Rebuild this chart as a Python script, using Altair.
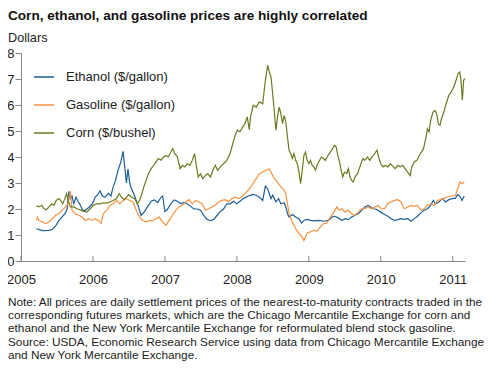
import altair as alt
import pandas as pd

FONT = "Liberation Sans"

eth_year = [2005.215, 2005.297, 2005.389, 2005.435, 2005.481, 2005.526, 2005.572, 2005.618, 2005.641, 2005.664,
            2005.686, 2005.709, 2005.732, 2005.764, 2005.792, 2005.824, 2005.856, 2005.892, 2005.938, 2005.993,
            2006.030, 2006.066, 2006.098, 2006.130, 2006.167, 2006.213, 2006.249, 2006.281, 2006.314, 2006.350,
            2006.387, 2006.419, 2006.442, 2006.465, 2006.487, 2006.510, 2006.533, 2006.579, 2006.625, 2006.670,
            2006.716, 2006.762, 2006.808, 2006.854, 2006.899, 2006.945, 2006.968, 2007.000, 2007.037, 2007.082,
            2007.128, 2007.174, 2007.220, 2007.265, 2007.311, 2007.357, 2007.403, 2007.449, 2007.494, 2007.540,
            2007.586, 2007.632, 2007.677, 2007.723, 2007.769, 2007.815, 2007.860, 2007.906, 2007.952, 2007.998,
            2008.043, 2008.089, 2008.158, 2008.222, 2008.268, 2008.314, 2008.359, 2008.396, 2008.428, 2008.474,
            2008.497, 2008.542, 2008.579, 2008.611, 2008.657, 2008.680, 2008.703, 2008.725, 2008.771, 2008.817,
            2008.863, 2008.899, 2008.931, 2008.977, 2009.023, 2009.069, 2009.137, 2009.206, 2009.275, 2009.320,
            2009.366, 2009.412, 2009.458, 2009.503, 2009.549, 2009.595, 2009.641, 2009.687, 2009.732, 2009.778,
            2009.824, 2009.847, 2009.892, 2009.938, 2009.998, 2010.053, 2010.098, 2010.144, 2010.190, 2010.236,
            2010.281, 2010.327, 2010.373, 2010.419, 2010.465, 2010.510, 2010.556, 2010.602, 2010.648, 2010.693,
            2010.730, 2010.762, 2010.808, 2010.854, 2010.899, 2010.945, 2010.991, 2011.037, 2011.069, 2011.105,
            2011.128, 2011.160]
eth_val = [1.24, 1.17, 1.18, 1.22, 1.35, 1.55, 1.70, 1.85, 2.00, 2.68,
           2.40, 2.50, 2.20, 2.45, 2.30, 2.15, 1.95, 1.95, 2.05, 2.20,
           2.45, 2.55, 2.70, 2.50, 2.45, 2.60, 2.50, 2.85, 3.10, 3.50,
           3.80, 4.22, 3.60, 3.00, 3.55, 3.00, 2.80, 2.50, 2.15, 1.75,
           1.90, 2.10, 2.30, 2.35, 2.25, 2.45, 2.50, 1.90, 2.00, 2.20,
           2.35, 2.30, 2.20, 2.25, 2.20, 2.10, 2.00, 2.00, 1.95, 1.75,
           1.60, 1.55, 1.60, 1.75, 1.90, 2.00, 2.20, 2.20, 2.30, 2.20,
           2.30, 2.40, 2.50, 2.56, 2.53, 2.45, 2.33, 2.88, 2.78, 2.40,
           2.53, 2.27, 2.40, 2.20, 2.24, 2.08, 1.82, 1.69, 1.79, 1.69,
           1.63, 1.46, 1.56, 1.60, 1.56, 1.54, 1.56, 1.53, 1.56, 1.69,
           1.72, 1.65, 1.56, 1.63, 1.59, 1.69, 1.76, 1.82, 1.95, 2.08,
           2.14, 2.10, 2.01, 1.99, 1.88, 1.79, 1.72, 1.63, 1.56, 1.59,
           1.63, 1.60, 1.63, 1.53, 1.63, 1.72, 1.85, 1.95, 2.01, 2.14,
           2.33, 2.20, 2.27, 2.40, 2.27, 2.36, 2.40, 2.42, 2.56, 2.46,
           2.33, 2.50]

gas_year = [2005.215, 2005.229, 2005.252, 2005.297, 2005.343, 2005.389, 2005.435, 2005.481, 2005.526, 2005.572,
            2005.618, 2005.654, 2005.686, 2005.709, 2005.755, 2005.801, 2005.847, 2005.892, 2005.938, 2005.984,
            2006.030, 2006.076, 2006.112, 2006.144, 2006.190, 2006.236, 2006.281, 2006.327, 2006.373, 2006.419,
            2006.465, 2006.510, 2006.556, 2006.602, 2006.648, 2006.693, 2006.739, 2006.785, 2006.831, 2006.876,
            2006.922, 2006.968, 2007.014, 2007.059, 2007.105, 2007.151, 2007.197, 2007.243, 2007.288, 2007.334,
            2007.380, 2007.426, 2007.471, 2007.517, 2007.563, 2007.609, 2007.654, 2007.700, 2007.746, 2007.792,
            2007.838, 2007.883, 2007.929, 2007.975, 2008.021, 2008.066, 2008.112, 2008.158, 2008.222, 2008.268,
            2008.314, 2008.359, 2008.405, 2008.451, 2008.474, 2008.506, 2008.542, 2008.579, 2008.611, 2008.657,
            2008.680, 2008.703, 2008.725, 2008.771, 2008.817, 2008.863, 2008.908, 2008.931, 2008.977, 2009.023,
            2009.069, 2009.114, 2009.160, 2009.206, 2009.252, 2009.298, 2009.343, 2009.389, 2009.421, 2009.458,
            2009.503, 2009.549, 2009.595, 2009.641, 2009.687, 2009.732, 2009.778, 2009.824, 2009.870, 2009.915,
            2009.961, 2010.007, 2010.053, 2010.098, 2010.144, 2010.190, 2010.236, 2010.281, 2010.327, 2010.373,
            2010.419, 2010.465, 2010.510, 2010.556, 2010.602, 2010.648, 2010.693, 2010.739, 2010.785, 2010.831,
            2010.876, 2010.922, 2010.968, 2011.037, 2011.069, 2011.096, 2011.128, 2011.160]
gas_val = [1.56, 1.69, 1.56, 1.50, 1.44, 1.50, 1.63, 1.76, 1.82, 1.95,
           2.08, 2.20, 2.70, 1.95, 1.82, 1.76, 1.69, 1.56, 1.63, 1.56,
           1.63, 1.56, 1.44, 1.82, 1.95, 2.14, 2.20, 2.33, 2.20, 2.33,
           2.40, 2.33, 2.27, 1.95, 1.69, 1.56, 1.50, 1.56, 1.54, 1.63,
           1.69, 1.50, 1.37, 1.56, 1.76, 1.95, 2.08, 2.14, 2.27, 2.36,
           2.20, 2.33, 2.27, 2.20, 1.95, 2.01, 2.08, 2.14, 2.27, 2.33,
           2.36, 2.27, 2.40, 2.46, 2.40, 2.46, 2.59, 2.72, 2.97, 3.17,
           3.36, 3.42, 3.49, 3.55, 3.42, 3.23, 3.10, 2.97, 2.85, 2.72,
           2.59, 2.20, 1.82, 1.50, 1.24, 1.05, 0.92, 0.79, 1.08, 1.12,
           1.18, 1.15, 1.31, 1.44, 1.46, 1.69, 1.85, 2.08, 1.95, 2.01,
           1.88, 1.95, 1.82, 1.76, 1.88, 2.01, 2.01, 2.08, 2.01, 2.08,
           2.14, 2.01, 2.01, 2.20, 2.27, 2.33, 2.36, 2.27, 2.01, 2.08,
           2.14, 2.10, 2.14, 1.95, 2.01, 2.14, 2.20, 2.14, 2.33, 2.36,
           2.40, 2.46, 2.49, 2.53, 2.78, 3.04, 2.97, 3.04]

corn_year = [2005.215, 2005.252, 2005.288, 2005.320, 2005.352, 2005.389, 2005.426, 2005.458, 2005.490, 2005.526,
             2005.549, 2005.581, 2005.609, 2005.632, 2005.654, 2005.686, 2005.732, 2005.778, 2005.824, 2005.870,
             2005.915, 2005.961, 2006.007, 2006.053, 2006.098, 2006.144, 2006.190, 2006.236, 2006.281, 2006.327,
             2006.364, 2006.396, 2006.432, 2006.465, 2006.497, 2006.533, 2006.579, 2006.616, 2006.648, 2006.680,
             2006.707, 2006.739, 2006.771, 2006.808, 2006.844, 2006.876, 2006.908, 2006.945, 2006.982, 2007.014,
             2007.046, 2007.082, 2007.110, 2007.137, 2007.174, 2007.211, 2007.243, 2007.275, 2007.311, 2007.348,
             2007.380, 2007.412, 2007.439, 2007.462, 2007.494, 2007.526, 2007.563, 2007.595, 2007.632, 2007.668,
             2007.700, 2007.732, 2007.769, 2007.815, 2007.860, 2007.906, 2007.943, 2007.975, 2008.007, 2008.043,
             2008.080, 2008.112, 2008.144, 2008.172, 2008.190, 2008.227, 2008.268, 2008.314, 2008.359, 2008.396,
             2008.428, 2008.451, 2008.474, 2008.497, 2008.519, 2008.542, 2008.565, 2008.588, 2008.611, 2008.634,
             2008.657, 2008.680, 2008.703, 2008.725, 2008.748, 2008.771, 2008.794, 2008.817, 2008.840, 2008.863,
             2008.886, 2008.908, 2008.931, 2008.954, 2008.977, 2009.000, 2009.023, 2009.046, 2009.069, 2009.092,
             2009.114, 2009.137, 2009.174, 2009.206, 2009.229, 2009.265, 2009.298, 2009.330, 2009.357, 2009.380,
             2009.403, 2009.426, 2009.449, 2009.471, 2009.494, 2009.526, 2009.549, 2009.572, 2009.595, 2009.618,
             2009.641, 2009.677, 2009.709, 2009.732, 2009.755, 2009.778, 2009.815, 2009.847, 2009.879, 2009.915,
             2009.947, 2009.970, 2009.998, 2010.030, 2010.062, 2010.098, 2010.135, 2010.167, 2010.199, 2010.236,
             2010.272, 2010.304, 2010.336, 2010.373, 2010.410, 2010.428, 2010.465, 2010.501, 2010.533, 2010.565,
             2010.593, 2010.625, 2010.648, 2010.671, 2010.693, 2010.725, 2010.753, 2010.776, 2010.799, 2010.822,
             2010.844, 2010.876, 2010.908, 2010.945, 2010.977, 2011.014, 2011.046, 2011.073, 2011.096, 2011.114,
             2011.133, 2011.151, 2011.169]
corn_val = [2.12, 2.08, 2.14, 2.01, 1.97, 2.08, 2.20, 2.14, 2.33, 2.40,
            2.33, 2.20, 2.40, 2.59, 2.33, 2.08, 2.08, 2.01, 1.97, 1.91,
            1.88, 2.01, 2.14, 2.20, 2.20, 2.24, 2.23, 2.27, 2.33, 2.40,
            2.59, 2.46, 2.36, 2.46, 2.55, 2.46, 2.40, 2.20, 2.33, 2.59,
            2.85, 3.10, 3.36, 3.55, 3.68, 3.81, 3.94, 3.88, 4.00, 4.06,
            4.00, 4.19, 4.32, 4.13, 4.00, 3.55, 3.68, 3.62, 3.74, 3.68,
            3.87, 4.13, 3.62, 3.23, 3.36, 3.17, 3.29, 3.36, 3.23, 3.49,
            3.68, 3.49, 3.62, 3.74, 3.87, 4.13, 4.51, 4.83, 5.03, 4.97,
            5.15, 5.28, 5.54, 5.05, 5.54, 5.99, 5.92, 6.12, 6.05, 6.95,
            7.53, 7.27, 7.08, 6.44, 5.79, 5.03, 5.54, 5.92, 5.67, 5.28,
            5.60, 5.35, 4.77, 4.26, 4.13, 3.94, 4.13, 3.87, 3.74, 3.42,
            2.97, 3.49, 4.06, 4.19, 3.87, 3.74, 3.87, 3.68, 3.62, 3.49,
            3.68, 3.81, 4.00, 3.94, 3.87, 4.06, 4.19, 4.32, 4.45, 4.38,
            4.06, 3.81, 3.49, 3.23, 3.42, 3.36, 3.55, 3.23, 3.10, 3.04,
            3.23, 3.36, 3.62, 3.81, 3.94, 3.87, 4.00, 3.87, 4.00, 4.13,
            4.26, 4.00, 3.74, 3.62, 3.68, 3.62, 3.74, 3.64, 3.55, 3.68,
            3.62, 3.68, 3.55, 3.42, 3.29, 3.62, 3.81, 3.87, 4.06, 4.19,
            4.32, 4.71, 5.09, 4.96, 5.41, 5.73, 5.79, 5.67, 5.28, 5.22,
            5.47, 5.73, 6.05, 6.37, 6.50, 6.69, 6.95, 7.21, 7.27, 6.95,
            6.18, 6.95, 7.01]

series_names = ["Ethanol ($/gallon)", "Gasoline ($/gallon)", "Corn ($/bushel)"]
series_colors = ["#1d5f99", "#f7923f", "#6b7a1f"]
year_ticks = [2005, 2006, 2007, 2008, 2009, 2010, 2011]
dollar_ticks = [0, 1, 2, 3, 4, 5, 6, 7, 8]

title_text = "Corn, ethanol, and gasoline prices are highly correlated"
unit_text = "Dollars"
note_lines = [
    "Note: All prices are daily settlement prices of the nearest-to-maturity contracts traded in the",
    "corresponding futures markets, which are the Chicago Mercantile Exchange for corn and",
    "ethanol and the New York Mercantile Exchange for reformulated blend stock gasoline.",
]
source_lines = [
    "Source: USDA, Economic Research Service using data from Chicago Mercantile Exchange",
    "and New York Mercantile Exchange.",
]

frames = []
for name, yrs, vals in zip(series_names, [eth_year, gas_year, corn_year], [eth_val, gas_val, corn_val]):
    frames.append(pd.DataFrame({"year": yrs, "price": vals, "series": name}))
df = pd.concat(frames, ignore_index=True)

W, H = 444, 208
xscale = alt.Scale(domain=[2005, 2011.17], nice=False, zero=False)
yscale = alt.Scale(domain=[0, 8], nice=False)

lines = alt.Chart(df).mark_line(strokeWidth=1.2).encode(
    x=alt.X("year:Q", scale=xscale,
            axis=alt.Axis(values=year_ticks, format="d", ticks=False, tickSize=0, labelPadding=12,
                          domainColor="#888888", labelFontSize=13, labelFont=FONT, labelColor="#222222",
                          grid=False, labelFlush=False, title=None)),
    y=alt.Y("price:Q", scale=yscale,
            axis=alt.Axis(values=dollar_ticks, tickSize=6, labelPadding=1, domainColor="#888888",
                          tickColor="#888888", labelFontSize=13, labelFont=FONT, labelColor="#222222",
                          grid=False, labelFlush=False, title=None)),
    color=alt.Color("series:N", scale=alt.Scale(domain=series_names, range=series_colors),
                    legend=alt.Legend(orient="none", legendX=12, legendY=13, title=None,
                                      symbolType="stroke", symbolSize=400, symbolStrokeWidth=1.5,
                                      labelFontSize=13, labelFont=FONT, labelColor="#222222",
                                      labelOffset=11, rowPadding=10, padding=0)),
    detail="series:N",
)

xticks = alt.Chart(pd.DataFrame({"year": year_ticks})).mark_rule(color="#888888", strokeWidth=1).encode(
    x=alt.X("year:Q", scale=xscale),
    y=alt.value(H - 5),
    y2=alt.value(H),
)

def text_layer(txt, x, y, size, weight="normal", color="#222222", lh=13):
    return alt.Chart(alt.Data(values=[{}])).mark_text(
        align="left", baseline="alphabetic", fontSize=size, font=FONT, fontWeight=weight,
        color=color, lineHeight=lh,
    ).encode(x=alt.value(x), y=alt.value(y), text=alt.value(txt))

title_l = text_layer(title_text, -13, -33, 13.6, "bold", "#111111")
unit_l = text_layer(unit_text, -13, -11.3, 12.7)
note_l = text_layer(note_lines, -13, 252.5, 11.8)
source_l = text_layer(source_lines, -13, 292.5, 11.8)

chart = alt.layer(lines, xticks, title_l, unit_l, note_l, source_l).properties(
    width=W, height=H,
    padding={"left": 13, "top": 45, "right": 27, "bottom": 104},
    autosize=alt.AutoSizeParams(type="none"),
).configure_view(stroke=None)

chart.save("out.html", embed_options={"renderer": "svg", "actions": False})
